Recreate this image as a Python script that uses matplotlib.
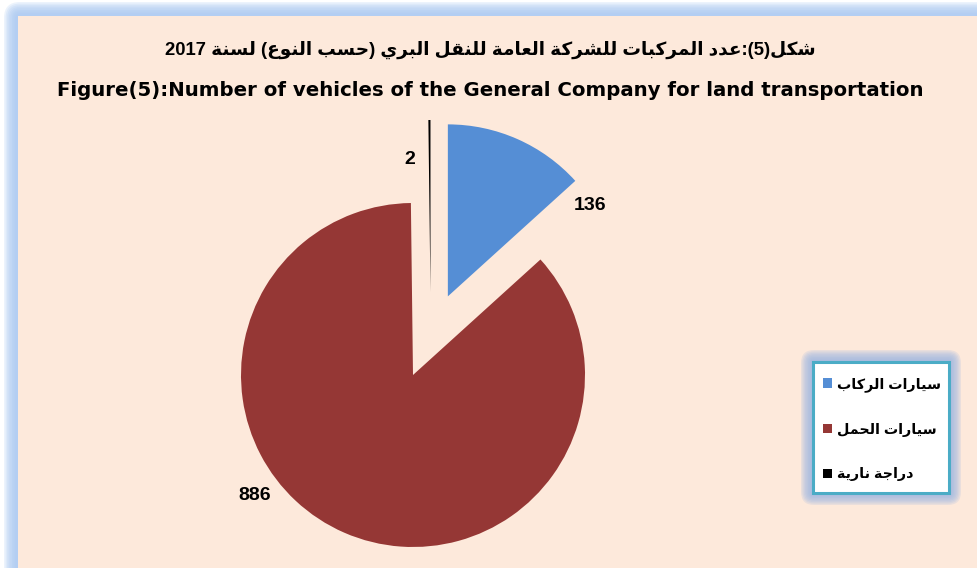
import re
import matplotlib
matplotlib.use("Agg")
import matplotlib.pyplot as plt
from matplotlib.patches import FancyBboxPatch, Rectangle, Patch

# ---------------- data ----------------
categories = ["سيارات الركاب", "سيارات الحمل", "دراجة نارية"]
values = [136, 886, 2]
colors = ["#558ED5", "#953735", "#000000"]
title_ar = "شكل(5):عدد المركبات للشركة العامة للنقل البري (حسب النوع) لسنة 2017"
title_en = "Figure(5):Number of vehicles of the General Company for land transportation"

# ---------------- Arabic shaping (presentation forms + RTL) ----------------
DUAL = {'ب': 0xFE8F, 'ت': 0xFE95, 'ث': 0xFE99, 'ج': 0xFE9D, 'ح': 0xFEA1, 'خ': 0xFEA5,
        'س': 0xFEB1, 'ش': 0xFEB5, 'ص': 0xFEB9, 'ض': 0xFEBD, 'ط': 0xFEC1, 'ظ': 0xFEC5,
        'ع': 0xFEC9, 'غ': 0xFECD, 'ف': 0xFED1, 'ق': 0xFED5, 'ك': 0xFED9, 'ل': 0xFEDD,
        'م': 0xFEE1, 'ن': 0xFEE5, 'ه': 0xFEE9, 'ي': 0xFEF1}
RIGHT = {'ا': 0xFE8D, 'ة': 0xFE93, 'د': 0xFEA9, 'ذ': 0xFEAB, 'ر': 0xFEAD, 'ز': 0xFEAF,
         'و': 0xFEED, 'ى': 0xFEEF}


def shape(s):
    out = []
    i, n = 0, len(s)
    while i < n:
        c = s[i]
        prev_join = i > 0 and s[i - 1] in DUAL
        if c == 'ل' and i + 1 < n and s[i + 1] == 'ا':
            out.append(chr(0xFEFC if prev_join else 0xFEFB))
            i += 2
            continue
        if c in DUAL or c in RIGHT:
            nxt = c in DUAL and i + 1 < n and (s[i + 1] in DUAL or s[i + 1] in RIGHT)
            base = DUAL.get(c, RIGHT.get(c))
            if prev_join and nxt:
                f = base + 3
            elif nxt:
                f = base + 2
            elif prev_join:
                f = base + 1
            else:
                f = base
            out.append(chr(f))
        else:
            out.append(c)
        i += 1
    return ''.join(out)


def visual(s):
    t = shape(s)[::-1]
    t = t.translate(str.maketrans('()', ')('))
    t = re.sub(r'[0-9]+', lambda m: m.group(0)[::-1], t)
    return t


FAM = ['Liberation Sans', 'DejaVu Sans']
W, H = 977, 568

fig = plt.figure(figsize=(W / 100, H / 100), dpi=100, facecolor='white')
ax = fig.add_axes([0, 0, 1, 1])
ax.set_xlim(0, W)
ax.set_ylim(0, H)
ax.axis('off')

# ---------------- outer glow frame ----------------
glow_col = '#A9C9F2'
for k in range(8):
    pad = 14 - k * 1.6
    ax.add_patch(FancyBboxPatch((18 - pad, -50), W + 100, H - 16 + pad + 50,
                                boxstyle="round,pad=0,rounding_size=%f" % (pad + 2),
                                facecolor=glow_col, edgecolor='none', alpha=0.22, zorder=0))
ax.add_patch(Rectangle((18, -10), W, H - 16 + 10, facecolor='#FDE9DB', edgecolor='none', zorder=1))

# ---------------- pie ----------------
cx, cy, r = 413, 568 - 375, 172
wedges, _ = ax.pie(values, colors=colors, startangle=90, counterclock=False,
                   explode=[86, 0, 86], center=(cx, cy), radius=r,
                   wedgeprops=dict(linewidth=0, zorder=3), frame=True)
# Excel drew the thin motorcycle slice slightly to the right of its exploded spot
c2 = wedges[2].center
wedges[2].set_center((c2[0] + 18, c2[1] - 3))
ax.set_xlim(0, W)
ax.set_ylim(0, H)
ax.set_aspect('equal')
ax.axis('off')

# value labels
label_pos = [(590, 205), (255, 495), (410, 160)]
for v, (lx, ly) in zip(values, label_pos):
    ax.text(lx, H - ly, str(v), ha='center', va='center', fontsize=14,
            fontweight='bold', family=FAM, color='black', zorder=5)

# ---------------- titles ----------------
ax.text(490, H - 50, visual(title_ar), ha='center', va='center', fontsize=13.3,
        fontweight='bold', family=FAM, zorder=5)
ax.text(490, H - 90, title_en, ha='center', va='center', fontsize=14.2,
        fontweight='bold', family=['DejaVu Sans'], zorder=5)

# ---------------- legend box with glow ----------------
lx0, ly0, lx1, ly1 = 813, 362, 949, 493
for k in range(8):
    pad = 12 - k * 1.4
    ax.add_patch(FancyBboxPatch((lx0 - pad, H - ly1 - pad), (lx1 - lx0) + 2 * pad,
                                (ly1 - ly0) + 2 * pad,
                                boxstyle="round,pad=0,rounding_size=%f" % (pad + 1),
                                facecolor='#9DB6E3', edgecolor='none', alpha=0.2, zorder=2))
ax.add_patch(Rectangle((lx0, H - ly1), lx1 - lx0, ly1 - ly0, facecolor='white',
                       edgecolor='#4BACC6', linewidth=2.2, zorder=5))

handles = [Patch(facecolor=c, edgecolor='none') for c in colors]
leg = ax.legend(handles, [visual(c) for c in categories], loc='upper left',
                bbox_to_anchor=(823 / W, 1 - 377 / H), bbox_transform=ax.transAxes,
                frameon=False, handlelength=0.62, handleheight=0.62,
                handletextpad=0.38, labelspacing=2.15, borderpad=0,
                borderaxespad=0,
                prop=dict(family=FAM, weight='bold', size=10.3))
leg.set_zorder(6)

fig.savefig('out.png', dpi=100, facecolor='white')
